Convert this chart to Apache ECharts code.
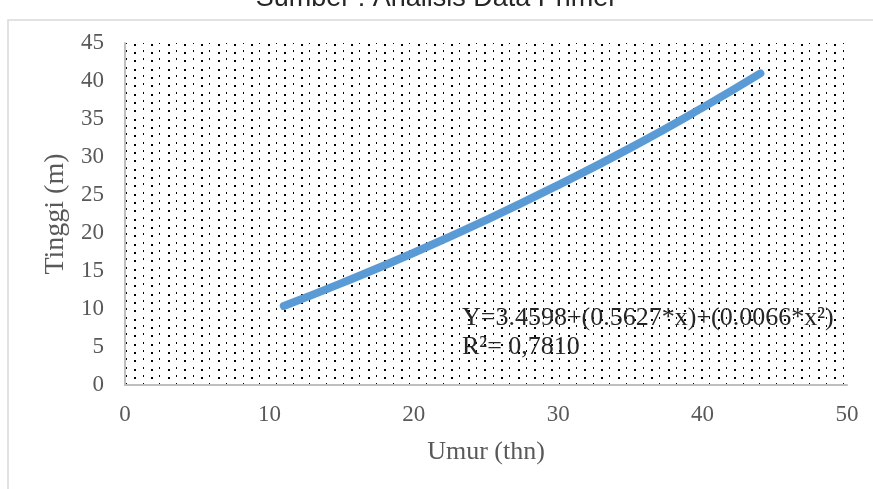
<!DOCTYPE html>
<html>
<head>
<meta charset="utf-8">
<script src="https://cdn.jsdelivr.net/npm/echarts@6/dist/echarts.min.js"></script>
<style>
html, body { margin: 0; padding: 0; background: #fff; }
#chart { width: 873px; height: 489px; }
</style>
</head>
<body>
<div id="chart"></div>
<script>
// data
var umur = [11, 15, 20, 25, 30, 35, 40, 44];
var tinggi = [10.4, 13.4, 17.4, 21.7, 26.3, 31.2, 36.5, 41.0];
var xTicks = [0, 10, 20, 30, 40, 50];
var yTicks = [0, 5, 10, 15, 20, 25, 30, 35, 40, 45];
var rumus = 'Y=3.4598+(0.5627*x)+(0.0066*x²)';
var rSquare = 'R²= 0,7810';

var serif = '"Liberation Serif", "Times New Roman", serif';
var labelColor = '#595959';

// dotted fill of the plot area
function dotPattern() {
    var c = document.createElement('canvas');
    c.width = 50;
    c.height = 25;
    var ctx = c.getContext('2d');
    ctx.fillStyle = '#000';
    for (var i = 0; i < 6; i++) {
        var x = Math.round(i * 50 / 6);
        for (var j = 0; j < 3; j++) {
            var y = Math.round(j * 25 / 3);
            if (i % 2 === 0) {
                ctx.fillRect(x + 1, y + 2, 2, 2);
            } else {
                ctx.fillRect(x + 1, y, 1, 2);
            }
        }
    }
    return c;
}

var chart = echarts.init(document.getElementById('chart'));

var points = [];
for (var i = 0; i < umur.length; i++) {
    points.push([umur[i], tinggi[i]]);
}

var option = {
    animation: false,
    backgroundColor: '#fff',
    grid: {
        left: 125,
        right: 26,
        top: 43,
        bottom: 104,
        show: true,
        borderWidth: 0,
        backgroundColor: { image: dotPattern(), repeat: 'repeat' }
    },
    xAxis: {
        type: 'value',
        min: xTicks[0],
        max: xTicks[xTicks.length - 1],
        interval: 10,
        name: 'Umur (thn)',
        nameLocation: 'middle',
        nameGap: 54,
        nameTextStyle: { fontFamily: serif, fontSize: 26, color: labelColor },
        axisLine: { show: true, lineStyle: { color: '#bfbfbf', width: 2 } },
        axisTick: { show: false },
        splitLine: { show: false },
        axisLabel: { fontFamily: serif, fontSize: 23, color: labelColor, margin: 18 }
    },
    yAxis: {
        type: 'value',
        min: yTicks[0],
        max: yTicks[yTicks.length - 1],
        interval: 5,
        name: 'Tinggi (m)',
        nameLocation: 'middle',
        nameGap: 53,
        nameRotate: 90,
        nameTextStyle: { fontFamily: serif, fontSize: 28, color: labelColor },
        axisLine: { show: true, lineStyle: { color: '#bfbfbf', width: 2 } },
        axisTick: { show: false },
        splitLine: { show: false },
        axisLabel: { fontFamily: serif, fontSize: 23, color: labelColor, margin: 21 }
    },
    graphic: [
        {
            type: 'rect',
            shape: { x: 8, y: 20, width: 900, height: 500 },
            style: { fill: 'none', stroke: '#d9d9d9', lineWidth: 1.5 },
            silent: true,
            z: -10
        },
        {
            type: 'text',
            left: 'center',
            top: -15,
            style: {
                text: 'Sumber : Analisis Data Primer',
                font: '27px "Liberation Sans", Arial, sans-serif',
                fill: '#262626'
            }
        },
        {
            type: 'text',
            left: 462,
            top: 305,
            z: 10,
            style: { text: rumus, font: '26px ' + serif, fill: '#262626' }
        },
        {
            type: 'text',
            left: 462,
            top: 334,
            z: 10,
            style: { text: rSquare, font: '26px ' + serif, fill: '#262626' }
        }
    ],
    series: [{
        type: 'line',
        data: points,
        smooth: true,
        showSymbol: false,
        lineStyle: { color: '#5b9bd5', width: 8, cap: 'round' },
        z: 5
    }]
};

chart.setOption(option);
</script>
</body>
</html>
